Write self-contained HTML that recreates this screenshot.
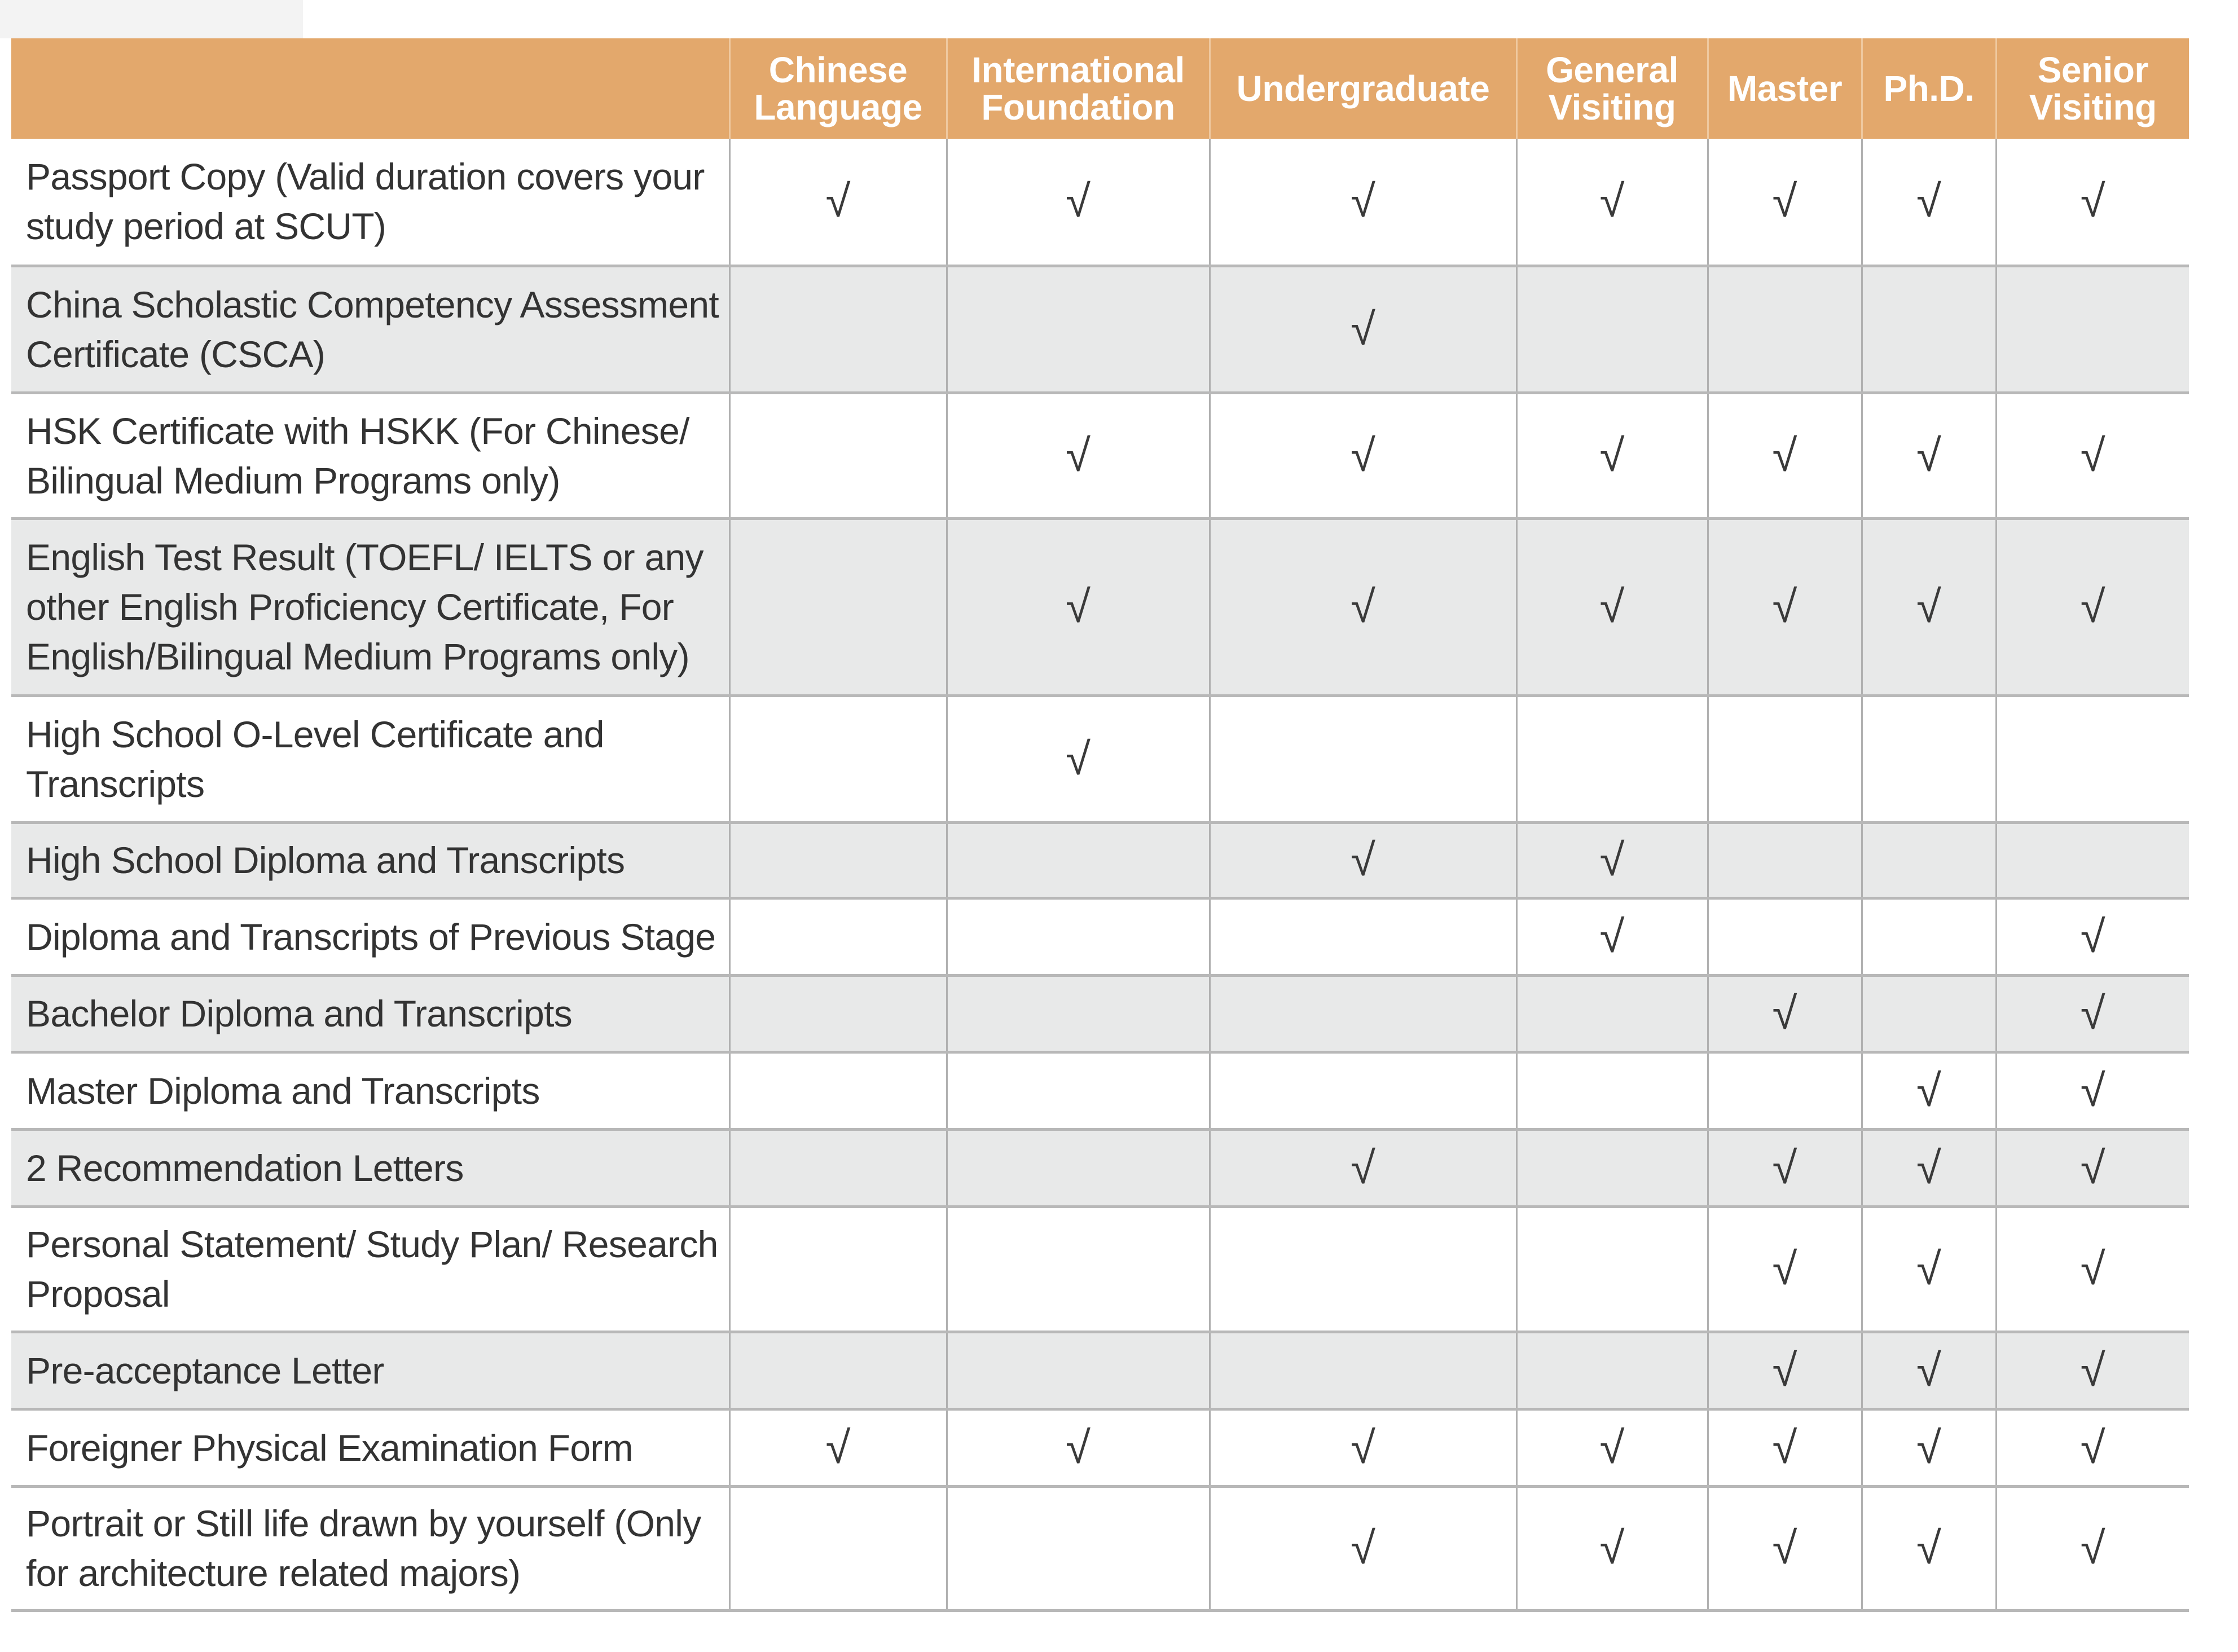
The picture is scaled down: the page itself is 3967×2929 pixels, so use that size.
<!DOCTYPE html>
<html><head><meta charset="utf-8"><style>
html,body{margin:0;padding:0;background:#fff;width:3967px;height:2929px;overflow:hidden;position:relative}
.tl{position:absolute;left:0;top:0;width:537px;height:68px;background:#f3f3f3}
table{position:absolute;left:20px;top:68px;border-collapse:collapse;table-layout:fixed;font-family:"Liberation Sans",sans-serif}
th{background:#E3A86C;color:#fff;font-weight:bold;font-size:64px;line-height:66px;letter-spacing:-0.5px;text-align:center;vertical-align:middle;border-left:3px solid #efc9a0;padding:0}
th:first-child{border-left:none}
td{border-left:3px solid #b0b0b0;border-bottom:5px solid #b8b8b8;text-align:center;vertical-align:middle;color:#3a3a3a;font-size:80px;padding:0}
td:first-child{border-left:none;text-align:left;padding-left:26px;font-size:66px;line-height:88px;letter-spacing:-0.7px;color:#333}
tr.g td{background:#e8e9e9}
</style></head><body>
<div class="tl"></div>
<table>
<colgroup><col style="width:1273px"><col style="width:385px"><col style="width:466px"><col style="width:544px"><col style="width:339px"><col style="width:273px"><col style="width:238px"><col style="width:342px"></colgroup>
<tr style="height:178px"><th></th><th>Chinese<br>Language</th><th>International<br>Foundation</th><th>Undergraduate</th><th>General<br>Visiting</th><th>Master</th><th>Ph.D.</th><th>Senior<br>Visiting</th></tr>
<tr style="height:225px"><td>Passport Copy (Valid duration covers your<br>study period at SCUT)</td><td>√</td><td>√</td><td>√</td><td>√</td><td>√</td><td>√</td><td>√</td></tr>
<tr class="g" style="height:225px"><td>China Scholastic Competency Assessment<br>Certificate (CSCA)</td><td></td><td></td><td>√</td><td></td><td></td><td></td><td></td></tr>
<tr style="height:223px"><td>HSK Certificate with HSKK (For Chinese/<br>Bilingual Medium Programs only)</td><td></td><td>√</td><td>√</td><td>√</td><td>√</td><td>√</td><td>√</td></tr>
<tr class="g" style="height:314px"><td>English Test Result (TOEFL/ IELTS or any<br>other English Proficiency Certificate, For<br>English/Bilingual Medium Programs only)</td><td></td><td>√</td><td>√</td><td>√</td><td>√</td><td>√</td><td>√</td></tr>
<tr style="height:225px"><td>High School O-Level Certificate and<br>Transcripts</td><td></td><td>√</td><td></td><td></td><td></td><td></td><td></td></tr>
<tr class="g" style="height:134px"><td>High School Diploma and Transcripts</td><td></td><td></td><td>√</td><td>√</td><td></td><td></td><td></td></tr>
<tr style="height:137px"><td>Diploma and Transcripts of Previous Stage</td><td></td><td></td><td></td><td>√</td><td></td><td></td><td>√</td></tr>
<tr class="g" style="height:136px"><td>Bachelor Diploma and Transcripts</td><td></td><td></td><td></td><td></td><td>√</td><td></td><td>√</td></tr>
<tr style="height:137px"><td>Master Diploma and Transcripts</td><td></td><td></td><td></td><td></td><td></td><td>√</td><td>√</td></tr>
<tr class="g" style="height:137px"><td>2 Recommendation Letters</td><td></td><td></td><td>√</td><td></td><td>√</td><td>√</td><td>√</td></tr>
<tr style="height:222px"><td>Personal Statement/ Study Plan/ Research<br>Proposal</td><td></td><td></td><td></td><td></td><td>√</td><td>√</td><td>√</td></tr>
<tr class="g" style="height:137px"><td>Pre-acceptance Letter</td><td></td><td></td><td></td><td></td><td>√</td><td>√</td><td>√</td></tr>
<tr style="height:137px"><td>Foreigner Physical Examination Form</td><td>√</td><td>√</td><td>√</td><td>√</td><td>√</td><td>√</td><td>√</td></tr>
<tr style="height:220px"><td>Portrait or Still life drawn by yourself (Only<br>for architecture related majors)</td><td></td><td></td><td>√</td><td>√</td><td>√</td><td>√</td><td>√</td></tr>
</table>
</body></html>
